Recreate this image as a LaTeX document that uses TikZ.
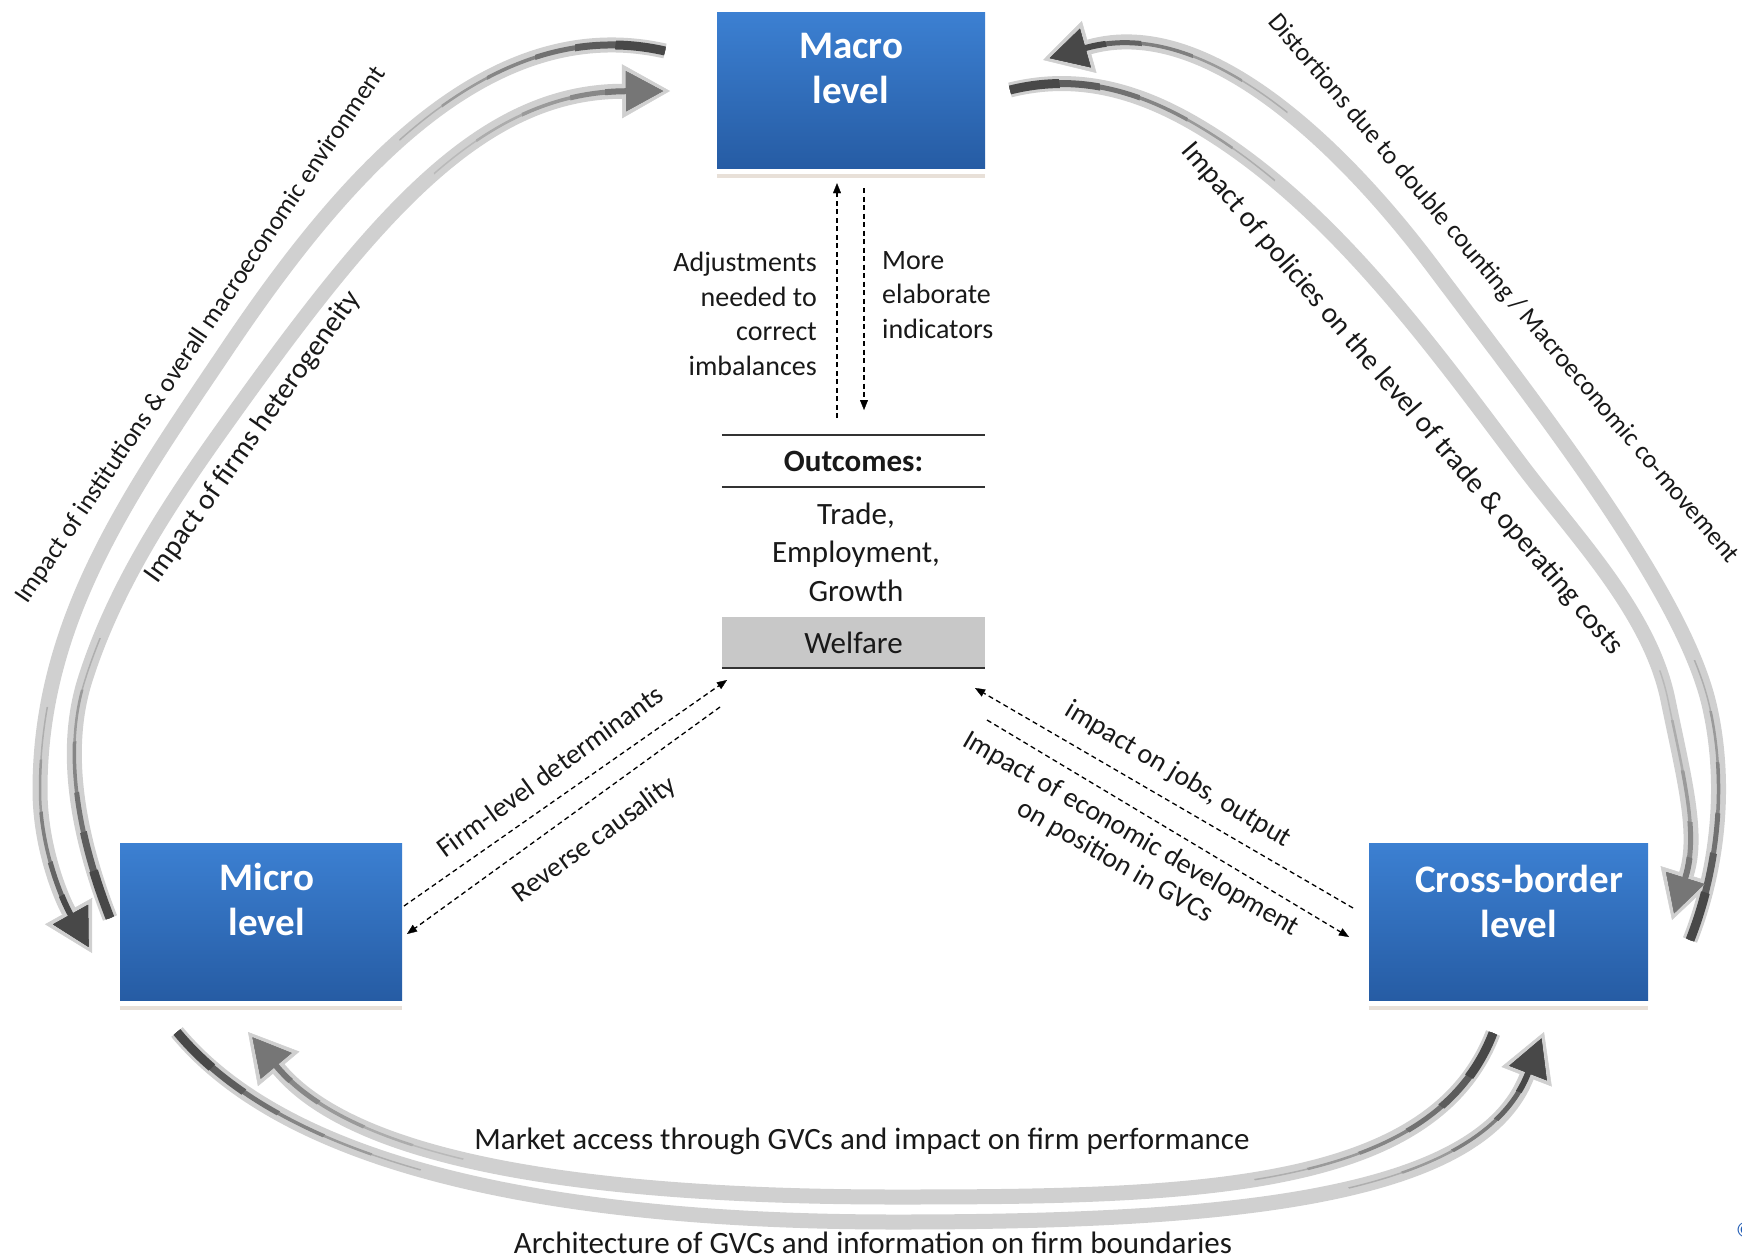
\documentclass[tikz,border=0pt]{standalone}
\usepackage{fontspec}
\setmainfont{Carlito}
\usetikzlibrary{arrows.meta,calc}
\definecolor{boxtop}{RGB}{60,128,210}
\definecolor{boxbot}{RGB}{38,92,164}
\definecolor{bandc}{RGB}{208,208,208}
\definecolor{darkc}{RGB}{72,72,72}
\definecolor{midc}{RGB}{118,118,118}
\definecolor{txtc}{RGB}{25,25,25}
\definecolor{welfc}{RGB}{200,200,200}
\definecolor{reflc}{RGB}{232,224,216}
\definecolor{copyc}{RGB}{30,90,180}
\newcommand\taperline[5]{%
  \foreach \tapR/\tapW/\tapP in #5{%
    \begin{scope}
      \clip (#1) circle[radius=\tapR pt];
      \draw[line width=\tapW pt,draw=#3!\tapP!bandc,#4] #2;
    \end{scope}}}
\def\tailsteps{280/1.5/25,230/2.5/40,180/3.5/55,130/5/70,90/7/85,50/9/100}
\def\headsteps{250/1.5/25,200/2.5/40,150/3.5/60,100/5/80,65/6/100}
\begin{document}
\begin{tikzpicture}[x=1pt,y=-1pt,
  levelbox/.style={rectangle, draw=none, top color=boxtop, bottom color=boxbot, inner sep=0pt},
  leveltxt/.style={text=white, font=\fontsize{39}{45}\selectfont\bfseries, align=center, inner sep=0pt},
  reflline/.style={draw=reflc, line width=4pt},
  bodytxt/.style={text=txtc, font=\fontsize{28}{34.5}\selectfont, inner sep=0pt},
  outtxt/.style={text=txtc, font=\fontsize{31}{38.5}\selectfont, inner sep=0pt},
  rulel/.style={draw=black!80, line width=2pt},
  dasharrow/.style={draw=black, line width=1.3pt, dash pattern=on 5pt off 3.5pt, -{Triangle[length=10pt,width=8pt,line width=0.3pt]}},
  band/.style={draw=bandc, line width=15pt},
  bandhead/.style={-{Triangle[length=48pt,width=54pt,line width=0.5pt]}},
  corehead/.style={-{Triangle[length=37pt,width=40pt,line width=0.5pt]}, shorten >=7pt},
  biglbl/.style={text=txtc, font=\fontsize{26}{30}\selectfont, inner sep=0pt},
  biglblb/.style={text=txtc, font=\fontsize{29}{33}\selectfont, inner sep=0pt},
  botlbl/.style={text=txtc, font=\fontsize{31}{36}\selectfont, inner sep=0pt}
]
\useasboundingbox (0,0) rectangle (1742,1258);
\fill[white] (0,0) rectangle (1742,1258);

% ---------- big curved arrows ----------
\coordinate (LOt) at (665,51);   \coordinate (LOh) at (92,953);
\coordinate (LIt) at (110,918);  \coordinate (LIh) at (670,91);
\coordinate (ROt) at (1690,940); \coordinate (ROh) at (1043,60);
\coordinate (RIt) at (1010,90);  \coordinate (RIh) at (1672,920);
\coordinate (BOt) at (177,1032); \coordinate (BOh) at (1544,1032);
\coordinate (BIt) at (1493,1033);\coordinate (BIh) at (248,1032);

\def\pLO{(LOt) .. controls (480,9) and (331,194) .. (225,352) .. controls (130,493) and (40,620) .. (40,790) .. controls (40,850) and (63,901) .. (LOh)}
\def\pLI{(LIt) .. controls (81,844) and (61,756) .. (85,680) .. controls (115,585) and (171,501) .. (229,420) .. controls (374,217) and (480,92) .. (LIh)}
\def\pRO{(ROt) .. controls (1723,856) and (1725,768) .. (1708,700) .. controls (1678,584) and (1535,403) .. (1433,267) .. controls (1343,147) and (1206,14) .. (ROh)}
\def\pRI{(RIt) .. controls (1078,73) and (1140,91) .. (1200,127) .. controls (1329,204) and (1430,343) .. (1520,463) .. controls (1574,535) and (1650,612) .. (1668,700) .. controls (1684,778) and (1699,834) .. (RIh)}
\def\pBO{(BOt) .. controls (292,1171) and (566,1222) .. (896,1222) .. controls (1226,1222) and (1479,1199) .. (BOh)}
\def\pBI{(BIt) .. controls (1432,1191) and (1196,1197) .. (896,1197) .. controls (596,1197) and (357,1163) .. (BIh)}

\draw[band,bandhead] \pLO;
\draw[band,bandhead] \pLI;
\draw[band,bandhead] \pRO;
\draw[band,bandhead] \pRI;
\draw[band,bandhead] \pBO;
\draw[band,bandhead] \pBI;

\taperline{LOt}{\pLO}{darkc}{}{\tailsteps}
\taperline{LOh}{\pLO}{darkc}{corehead}{\headsteps}
\taperline{LIt}{\pLI}{darkc}{}{\tailsteps}
\taperline{LIh}{\pLI}{midc}{corehead}{\headsteps}
\taperline{ROt}{\pRO}{darkc}{}{\tailsteps}
\taperline{ROh}{\pRO}{darkc}{corehead}{\headsteps}
\taperline{RIt}{\pRI}{darkc}{}{\tailsteps}
\taperline{RIh}{\pRI}{midc}{corehead}{\headsteps}
\taperline{BOt}{\pBO}{darkc}{}{\tailsteps}
\taperline{BOh}{\pBO}{darkc}{corehead}{\headsteps}
\taperline{BIt}{\pBI}{darkc}{}{\tailsteps}
\taperline{BIh}{\pBI}{midc}{corehead}{\headsteps}

% labels of curved arrows
\node[biglbl, rotate=56] (lblinst) at (201,335) {Impact of institutions \& overall macroeconomic environment};
\node[biglblb, rotate=54.5] (lblfirm) at (253,437) {Impact of firms heterogeneity};
\node[biglbl, rotate=-49.6] (lbldist) at (1503,289) {Distortions due to double counting / Macroeconomic co-movement};
\node[biglblb, rotate=-49.5] (lblpol) at (1402,399) {Impact of policies on the level of trade \& operating costs};
\node[botlbl] (lblmkt) at (862,1141) {Market access through GVCs and impact on firm performance};
\node[botlbl] (lblarch) at (873,1243) {Architecture of GVCs and information on firm boundaries};

% ---------- level boxes ----------
\node[levelbox, minimum width=268pt, minimum height=156pt] (macro) at (851,90) {};
\node[levelbox, minimum width=282pt, minimum height=157pt] (micro) at (261,921.5) {};
\node[levelbox, minimum width=279pt, minimum height=157pt] (cross) at (1508.5,921.5) {};
\node[leveltxt] (macrot) at (851,68) {Macro\\level};
\node[leveltxt] (microt) at (267,899) {Micro\\level};
\node[leveltxt] (crosst) at (1519,901) {Cross-border\\level};
\foreach \b in {macro,micro,cross}
  \draw[reflline] ($(\b.south west)+(0,8)$) -- ($(\b.south east)+(0,8)$);

% ---------- centre column ----------
\node[bodytxt, align=right, anchor=east] (adj) at (817,314) {Adjustments\\needed to\\correct\\imbalances};
\node[bodytxt, align=left, anchor=west] (more) at (882,295) {More\\elaborate\\indicators};
\coordinate (upS) at (837,418);
\coordinate (dnE) at (864,410);
\draw[dasharrow] (upS) -- ($(macro.south -| upS)+(0,15)$);
\draw[dasharrow] ($(macro.south -| dnE)+(0,20)$) -- (dnE);

\node[outtxt, font=\fontsize{31}{38.5}\selectfont\bfseries, minimum width=263pt, minimum height=52pt] (outc) at (853.5,461) {Outcomes:};
\draw[rulel] (outc.north west) -- (outc.north east);
\draw[rulel] (outc.south west) -- (outc.south east);
\node[outtxt, align=center] (trade) at (856,552) {Trade,\\Employment,\\Growth};
\node[outtxt, fill=welfc, minimum width=263pt, minimum height=51pt] (welfare) at (853.5,642.5) {Welfare};
\draw[rulel] (welfare.south west) -- (welfare.south east);

% ---------- diagonal dashed arrows ----------
\coordinate (d1s) at (404,906);  \coordinate (d1e) at (727,680);
\coordinate (d2s) at (720,707);  \coordinate (d2e) at (407,934);
\coordinate (e1s) at (1353,908); \coordinate (e1e) at (975,688);
\coordinate (e2s) at (987,720);  \coordinate (e2e) at (1349,937);
\draw[dasharrow] (d1s) -- (d1e);
\draw[dasharrow] (d2s) -- (d2e);
\draw[dasharrow] (e1s) -- (e1e);
\draw[dasharrow] (e2s) -- (e2e);
\node[bodytxt, rotate=36] (lblfld) at (550,771) {Firm-level determinants};
\node[bodytxt, rotate=36] (lblrev) at (595,840) {Reverse causality};
\node[bodytxt, rotate=-31] (lbljob) at (1178,775) {impact on jobs, output};
\node[bodytxt, font=\fontsize{28}{32}\selectfont, rotate=-30, align=center] (lbleco) at (1123,848) {Impact of economic development\\on position in GVCs};

\node[text=copyc, font=\fontsize{22}{22}\selectfont, anchor=west, inner sep=0pt] (copy) at (1736,1230) {©};
\end{tikzpicture}
\end{document}
